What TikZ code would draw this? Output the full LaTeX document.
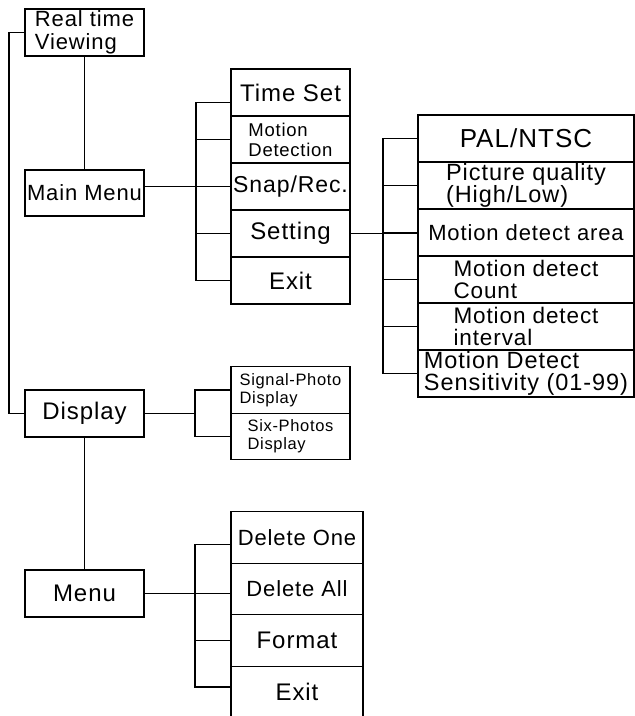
\documentclass[tikz,border=0pt]{standalone}
\usepackage{fontspec}
\setmainfont{Liberation Sans}[LetterSpace=4.0]
\usetikzlibrary{positioning}

\newcommand{\bigtxt}{\fontsize{24}{25}\selectfont}
\newcommand{\medtxt}{\fontsize{22}{23}\selectfont}
\newcommand{\midtxt}{\fontsize{18.5}{20}\selectfont}
\newcommand{\smalltxt}{\fontsize{16.5}{18}\selectfont}

\begin{document}
\begin{tikzpicture}[x=1pt,y=-1pt,line width=1.1pt]
	\tikzstyle{every node}+=[inner sep=0pt,outer sep=0pt]
	\tikzstyle{menubox}=[draw,align=left,font=\bigtxt]
	\tikzstyle{colA}=[menubox,minimum width=119pt,minimum height=47pt]
	\tikzstyle{colB}=[menubox,minimum width=216pt,minimum height=47pt]
	\tikzstyle{colC}=[menubox,minimum width=132pt,minimum height=51.5pt]
	\useasboundingbox (0,0) rectangle (635,716);

	% top level
	\node [colA,font=\medtxt] (rtv) at (84.5,32.5) {Real time\\Viewing};
	\node [colA,minimum height=46pt,font=\medtxt] (mm) at (84.5,193) {Main Menu};
	\node [colA] (dp) at (84.5,413.5) {Display};
	\node [colA] (mn) at (84.5,593.5) {Menu};

	% main menu items
	\node [colA] (ts) at (290.5,92.5) {Time Set};
	\node [colA,below=0pt of ts,font=\midtxt] (md) {Motion\\Detection};
	\node [colA,below=0pt of md,font=\fontsize{23}{24}\selectfont] (sn) {Snap/Rec.};
	\node [colA,below=0pt of sn] (st) {Setting};
	\node [colA,below=0pt of st] (ex) {Exit};

	% setting items
	\node [colB,font=\fontsize{26}{27}\selectfont] (pal) at (526,138.5) {PAL/NTSC};
	\node [colB,below=0pt of pal,font=\fontsize{23.5}{22}\selectfont] (pq) {Picture quality\\(High/Low)};
	\node [colB,below=0pt of pq,font=\medtxt] (mda) {Motion detect area};
	\node [colB,below=0pt of mda,font=\fontsize{22.5}{22}\selectfont] (mdc) {Motion detect\\Count};
	\node [colB,below=0pt of mdc,font=\fontsize{22.5}{22}\selectfont] (mdi) {Motion detect\\interval};
	\node [colB,below=0pt of mdi,font=\fontsize{23.5}{22}\selectfont] (mds) {Motion Detect\\Sensitivity (01-99)};

	% display items
	\node [colA,minimum height=46.5pt,font=\smalltxt] (sp) at (290.5,390) {Signal-Photo\\Display};
	\node [colA,minimum height=46.5pt,below=0pt of sp,font=\smalltxt] (sx) {Six-Photos\\Display};

	% menu items
	\node [colC,font=\medtxt] (d1) at (297,537.5) {Delete One};
	\node [colC,below=0pt of d1,font=\medtxt] (d2) {Delete All};
	\node [colC,below=0pt of d2] (fm) {Format};
	\node [colC,below=0pt of fm] (ex2) {Exit};

	% spine
	\draw (rtv.west) -- ++(-16,0) |- (dp.west);
	\draw (rtv.south) -- (mm.north);
	\draw (dp.south) -- (mn.north);

	% main menu bracket
	\draw (mm.east |- sn.west) -- (sn.west);
	\draw ([yshift=-10pt]ts.west) -- ++(-35,0) |- (ex.west);
	\foreach \n in {md,st}
		\draw (\n.west) -- ++(-35,0);

	% setting bracket
	\draw (st.east) -- (st.east -| pal.west);
	\draw (pal.west) -- ++(-35,0) |- (mds.west);
	\foreach \n in {pq,mda,mdc,mdi}
		\draw (\n.west) -- ++(-35,0);

	% display bracket
	\draw (dp.east) -- ++(51,0);
	\draw (sp.west) -- ++(-36,0) |- (sx.west);

	% menu bracket
	\draw (mn.east) -- (mn.east -| d2.west);
	\draw ([yshift=-7pt]d1.west) -- ++(-36,0) |- ([yshift=5pt]ex2.west);
	\draw (fm.west) -- ++(-36,0);
\end{tikzpicture}
\end{document}
